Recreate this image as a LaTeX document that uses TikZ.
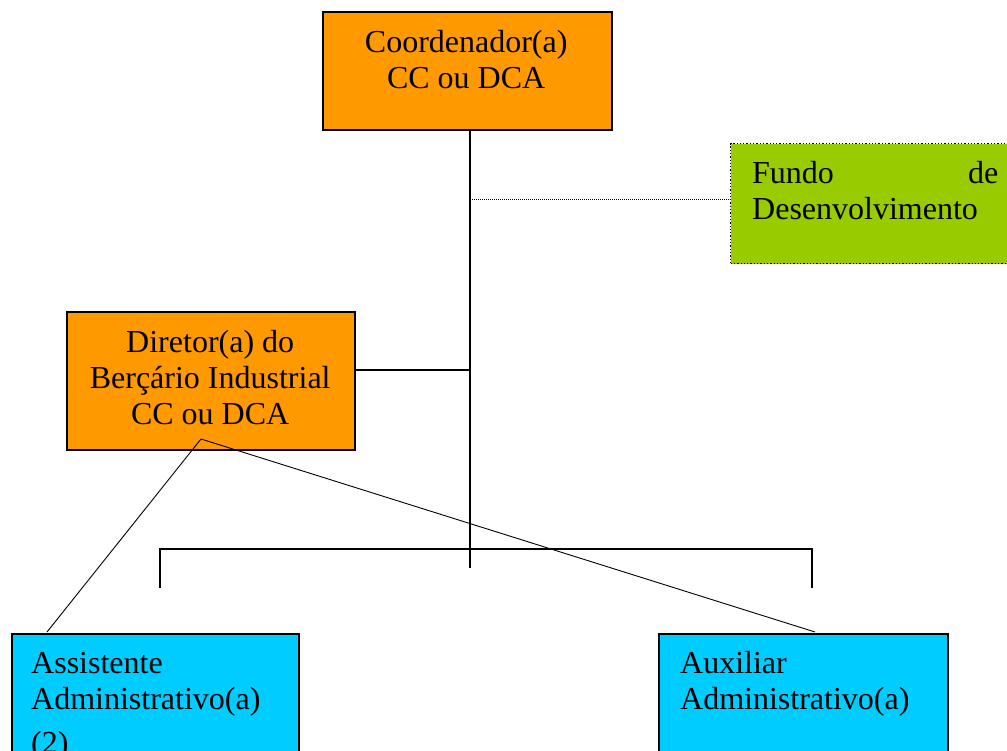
\documentclass[tikz,border=0pt]{standalone}
\usepackage{fontspec}
\setmainfont{Liberation Serif}
\definecolor{orangebox}{HTML}{FF9900}
\definecolor{greenbox}{HTML}{99CC00}
\definecolor{cyanbox}{HTML}{00CCFF}
\begin{document}
\begin{tikzpicture}[x=1pt,y=-1pt,
  box/.style={draw=black, line width=2pt, anchor=north west, inner sep=0pt, rectangle},
  dotbox/.style={draw=black, line width=1.3pt, dotted, anchor=north west, inner sep=0pt, rectangle},
  txt/.style={anchor=base west, inner sep=0pt, font=\fontsize{32}{36}\selectfont},
  conn/.style={draw=black, line width=1.8pt},
  dotconn/.style={draw=black, line width=1.2pt, dash pattern=on 1pt off 1pt},
  diag/.style={draw=black, line width=0.9pt}]
\clip (0,0) rectangle (1007,750);
\fill[white] (0,0) rectangle (1007,750);
% boxes
\node[box, fill=orangebox, minimum width=289pt, minimum height=118pt] (coord) at (322,11) {};
\node[dotbox, fill=greenbox, minimum width=300pt, minimum height=120pt] (fundo) at (730,143) {};
\node[box, fill=orangebox, minimum width=288pt, minimum height=138pt] (dir) at (66,311) {};
\node[box, fill=cyanbox, minimum width=287pt, minimum height=140pt] (assist) at (11,633) {};
\node[box, fill=cyanbox, minimum width=289pt, minimum height=140pt] (aux) at (658,633) {};
% texts
\node[txt] (coordt) at (326,52) {\parbox[t]{280pt}{\centering Coordenador(a)\\CC ou DCA}};
\node[txt] (fundot) at (752,183) {\parbox[t]{246pt}{Fundo\hfill de\\Desenvolvimento}};
\node[txt] (dirt) at (70,352) {\parbox[t]{280pt}{\centering Diretor(a) do\\Berçário Industrial\\CC ou DCA}};
\node[txt] (assistt) at (31,673) {\parbox[t]{265pt}{\raggedright Assistente\\Administrativo(a)\\[8pt](2)}};
\node[txt] (auxt) at (680,673) {\parbox[t]{265pt}{\raggedright Auxiliar\\Administrativo(a)}};
% connectors
\coordinate (trunkend) at (470,568);
\coordinate (barl) at (160,549);
\coordinate (barr) at (812,549);
\coordinate (barld) at (160,588);
\coordinate (barrd) at (812,588);
\coordinate (dsrc) at (201,439);
\coordinate (aend) at (47,632);
\coordinate (xend) at (815,632);
\draw[conn] (coord.south -| trunkend) -- (trunkend);
\draw[dotconn] ([yshift=4pt]fundo.west -| trunkend) -- ([yshift=4pt]fundo.west);
\draw[conn] ([yshift=11pt]dir.east) -- ([yshift=11pt]dir.east -| trunkend);
\draw[conn] (barld) -- (barl) -- (barr) -- (barrd);
\draw[diag] (dsrc) -- (aend);
\draw[diag] (dsrc) -- (xend);
\end{tikzpicture}
\end{document}
